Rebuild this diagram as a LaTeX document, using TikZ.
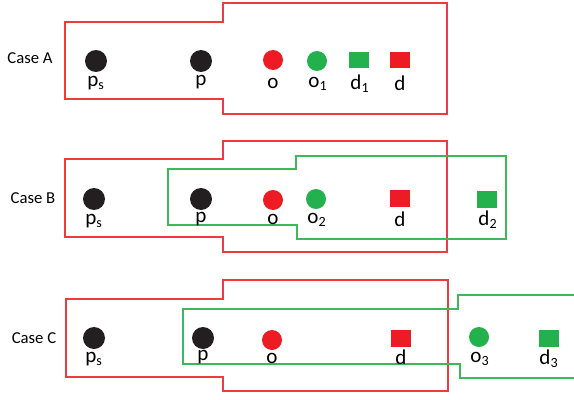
\documentclass[tikz,border=0pt]{standalone}
\usepackage{fontspec}
\setmainfont{Carlito}
\definecolor{rojo}{HTML}{ED1C24}
\definecolor{verde}{HTML}{22B14C}
\definecolor{negro}{HTML}{231F20}
\definecolor{linrojo}{HTML}{EE3B3B}
\definecolor{linverde}{HTML}{3DB85A}
\tikzset{
    punto/.style={circle, fill=#1, inner sep=0pt, minimum size=0.4cm},
    cuadro/.style={rectangle, fill=#1, inner sep=0pt, minimum width=0.4cm, minimum height=0.34cm},
    etiq/.style={inner sep=0pt, font=\fontsize{12}{12}\selectfont},
    caso/.style={inner sep=0pt, font=\fontsize{9.5}{10}\selectfont},
    zona/.style={line width=0.6pt, #1}
}
\begin{document}
\begin{tikzpicture}[x=0.02cm, y=-0.02cm]
    \useasboundingbox (0,0) rectangle (574,399);
    % Caso A
    \node[caso] (casoA) at (30,58) {Case A};
    \draw[zona=linrojo] (65,22) -- (223,22) -- (223,3) -- (447,3) -- (447,114) -- (223,114) -- (223,99) -- (65,99) -- cycle;
    \node[punto=negro, minimum size=0.44cm] (psA) at (96,61) {};
    \node[punto=negro, minimum size=0.44cm] (pA) at (201,61) {};
    \node[punto=rojo] (oA) at (273,60) {};
    \node[punto=verde] (o1A) at (317,61) {};
    \node[cuadro=verde] (d1A) at (359,60) {};
    \node[cuadro=rojo] (dA) at (400,60) {};
    \node[etiq] (psA-l) at (96,83) {p\textsubscript{s}};
    \node[etiq] (pA-l) at (201,82) {p};
    \node[etiq] (oA-l) at (273,83) {o};
    \node[etiq] (o1A-l) at (318,84) {o\textsubscript{1}};
    \node[etiq] (d1A-l) at (360,84) {d\textsubscript{1}};
    \node[etiq] (dA-l) at (400,83) {d};
    % Caso B
    \node[caso] (casoB) at (33,198) {Case B};
    \draw[zona=linrojo] (65,159) -- (223,159) -- (223,141) -- (447,141) -- (447,252) -- (223,252) -- (223,237) -- (65,237) -- cycle;
    \draw[zona=linverde] (168,169) -- (296,169) -- (296,156) -- (506,156) -- (506,239) -- (297,239) -- (297,225) -- (168,225) -- cycle;
    \node[punto=negro, minimum size=0.44cm] (psB) at (94,199) {};
    \node[punto=negro, minimum size=0.44cm] (pB) at (201,199) {};
    \node[punto=rojo] (oB) at (273,200) {};
    \node[punto=verde] (o2B) at (316,199) {};
    \node[cuadro=rojo] (dB) at (400,198) {};
    \node[cuadro=verde] (d2B) at (487,199) {};
    \node[etiq] (psB-l) at (94,221) {p\textsubscript{s}};
    \node[etiq] (pB-l) at (201,219) {p};
    \node[etiq] (oB-l) at (273,219) {o};
    \node[etiq] (o2B-l) at (317,220) {o\textsubscript{2}};
    \node[etiq] (dB-l) at (400,219) {d};
    \node[etiq] (d2B-l) at (488,220) {d\textsubscript{2}};
    % Caso C
    \node[caso] (casoC) at (34,338) {Case C};
    \draw[zona=linrojo] (66,299) -- (223,299) -- (223,280) -- (448,280) -- (448,391) -- (223,391) -- (223,377) -- (66,377) -- cycle;
    \draw[zona=linverde] (574,295) -- (458,295) -- (458,309) -- (183,309) -- (183,364) -- (460,364) -- (460,378) -- (574,378);
    \node[punto=negro, minimum size=0.44cm] (psC) at (94,338) {};
    \node[punto=negro, minimum size=0.44cm] (pC) at (203,338) {};
    \node[punto=rojo] (oC) at (272,340) {};
    \node[cuadro=rojo] (dC) at (401,338) {};
    \node[punto=verde] (o3C) at (479,337) {};
    \node[cuadro=verde] (d3C) at (549,338) {};
    \node[etiq] (psC-l) at (94,359) {p\textsubscript{s}};
    \node[etiq] (pC-l) at (203,357) {p};
    \node[etiq] (oC-l) at (272,358) {o};
    \node[etiq] (dC-l) at (401,357) {d};
    \node[etiq] (o3C-l) at (480,359) {o\textsubscript{3}};
    \node[etiq] (d3C-l) at (549,359) {d\textsubscript{3}};
\end{tikzpicture}
\end{document}
